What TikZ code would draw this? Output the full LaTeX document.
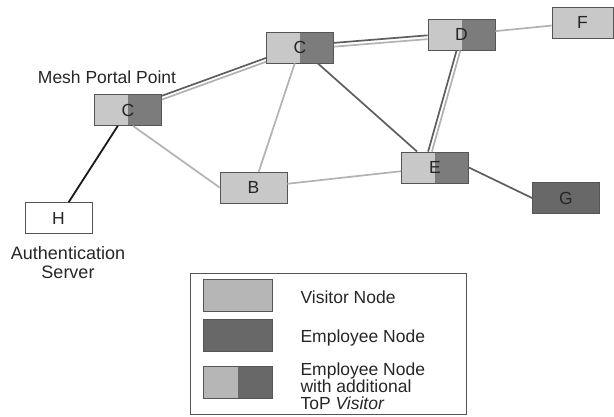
\documentclass[tikz,border=0pt]{standalone}
\usepackage{fontspec}
\setmainfont{Liberation Sans}
\definecolor{visgray}{HTML}{C8C8C8}
\definecolor{halfgray}{HTML}{7C7C7C}
\definecolor{empgray}{HTML}{686868}
\definecolor{boxline}{HTML}{555555}
\definecolor{vislink}{HTML}{B2B2B2}
\definecolor{emplink}{HTML}{5E5E5E}
\definecolor{legvis}{HTML}{B6B6B6}
\tikzset{
  mesh/.style={draw=boxline, line width=0.8pt, minimum width=67pt, minimum height=31pt,
    inner sep=0pt, text=black!85, font=\fontsize{17.5}{20}\selectfont},
  visitor/.style={mesh, fill=visgray},
  employee/.style={mesh, fill=empgray},
  both/.style={mesh, fill=visgray, path picture={
    \fill[#1] (path picture bounding box.north) rectangle (path picture bounding box.south east);}},
  both/.default=halfgray,
  vlink/.style={draw=vislink, line width=1.7pt},
  elink/.style={draw=emplink, line width=1.7pt},
  caption/.style={text=black!85, font=\fontsize{17.5}{17}\selectfont, align=left}
}
\begin{document}
\begin{tikzpicture}[x=1pt, y=-1pt]
\useasboundingbox (0,0) rectangle (614,416);
% mesh nodes
\node[both] (cp) at (128,110){C};
\node[both] (ct) at (300,47.5){C};
\node[both] (nd) at (461.5,34.5){D};
\node[visitor, minimum width=61pt] (nf) at (582.5,22.5){F};
\node[both] (ne) at (435,167.5){E};
\node[employee] (ng) at (566,198){G};
\node[visitor] (nb) at (253.5,187.5){B};
\node[mesh, fill=white] (nh) at (58.5,218){H};
\node[caption] (portal) at (107,77){Mesh Portal Point};
\node[caption, align=center, font=\fontsize{18}{19}\selectfont] (auth) at (68,263){Authentication\\Server};
% links
\draw[elink, transform canvas={yshift=1.9pt}](cp) -- (ct);
\draw[vlink, transform canvas={yshift=-1.9pt}](cp) -- (ct);
\draw[elink, transform canvas={yshift=1.9pt}](ct) -- (nd);
\draw[vlink, transform canvas={yshift=-1.9pt}](ct) -- (nd);
\draw[elink, transform canvas={xshift=-1.9pt}]([xshift=-3pt]nd.south) -- ([xshift=-5pt]ne.north);
\draw[vlink, transform canvas={xshift=1.9pt}]([xshift=-3pt]nd.south) -- ([xshift=-5pt]ne.north);
\draw[vlink]([xshift=5pt]cp.south) -- (nb.west);
\draw[vlink](ct) -- (nb);
\draw[vlink](nb) -- (ne);
\draw[vlink](nd) -- (nf);
\draw[elink](ct) -- (ne);
\draw[elink](ne.east) -- (ng.west);
\draw[line width=1.8pt, black!90](cp) -- (nh);
% legend
\node[draw=boxline, line width=0.8pt, minimum width=276pt, minimum height=141pt] (legbox) at (328,344){};
\node[mesh, fill=legvis, minimum width=69pt, minimum height=32pt] (legvis) at (237.5,295){};
\node[employee, minimum width=69pt, minimum height=32pt] (legemp) at (237.5,335.5){};
\node[both=empgray, fill=legvis, minimum width=69pt, minimum height=32pt] (legboth) at (237.5,382){};
\node[caption, anchor=west] (legvistxt) at (297,297){Visitor Node};
\node[caption, anchor=west] (legemptxt) at (297,338){Employee Node};
\node[caption, anchor=west] (legbothtxt) at (297,386){Employee Node\\with additional\\ToP \textit{Visitor}};
\end{tikzpicture}
\end{document}
